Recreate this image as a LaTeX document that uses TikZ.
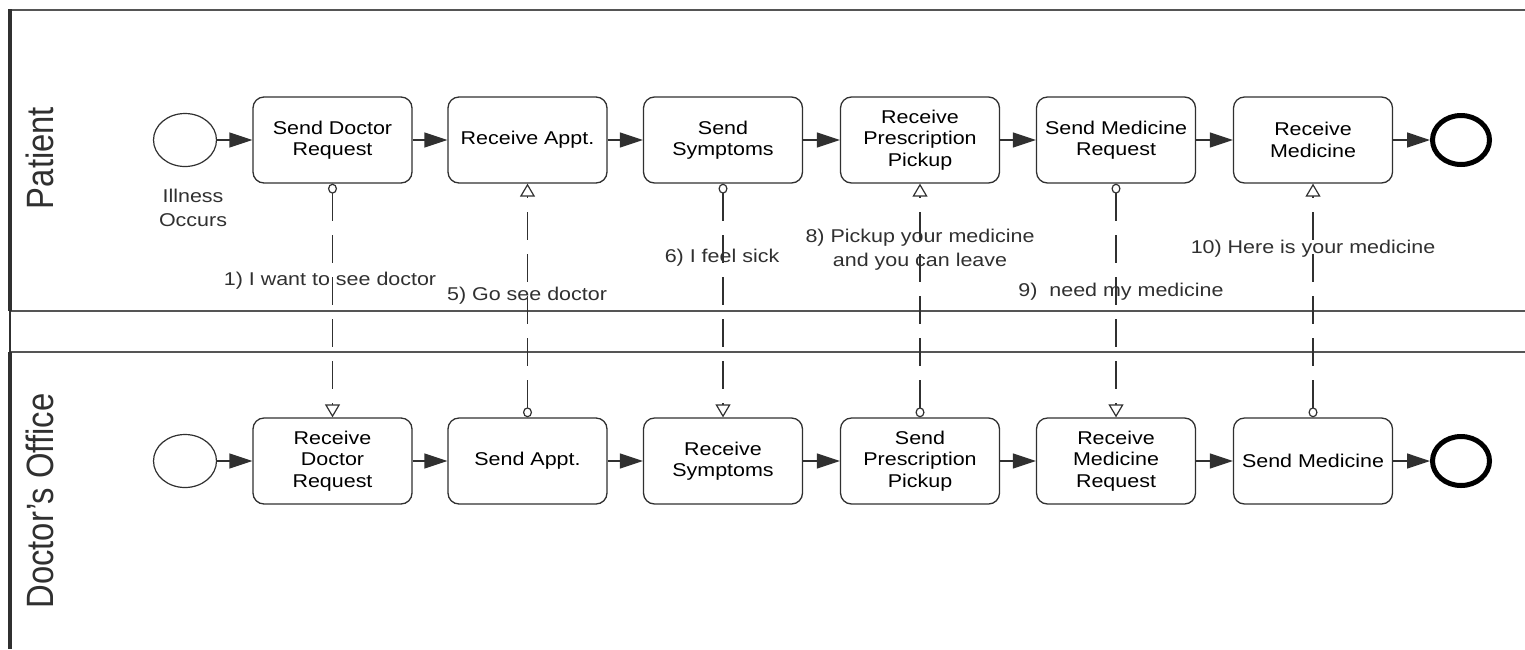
\documentclass[tikz,border=0pt]{standalone}
\usepackage{fontspec}
\setmainfont{Liberation Sans}[FakeStretch=1.16]
\newfontfamily\lanefont{Liberation Sans}
\usetikzlibrary{arrows.meta,shapes.geometric}
\definecolor{ln}{HTML}{303030}
\definecolor{pl}{HTML}{555555}
\newcommand\tskfont{\fontsize{18.5}{21.5}\selectfont}
\newcommand\lblfont{\fontsize{18.5}{24}\selectfont}
\begin{document}
\begin{tikzpicture}[x=1pt,y=-1pt,
  task/.style={draw=ln, line width=1.3pt, rounded corners=11pt, minimum width=159pt, minimum height=86pt, align=center, inner sep=0pt, font=\tskfont, fill=white},
  startev/.style={draw=ln, ellipse, line width=1.2pt, minimum width=63pt, minimum height=53pt, inner sep=0pt},
  endev/.style={draw=black, ellipse, line width=5pt, minimum width=57pt, minimum height=49pt, inner sep=0pt},
  seq/.style={draw=ln, line width=1.3pt, -{Triangle[length=23pt,width=15pt]}},
  msg/.style={draw=ln, line width=1.4pt, dash pattern=on 28pt off 14pt,
    arrows={Circle[length=10pt,width=9pt,fill=white,line width=1.2pt]-Triangle[length=13pt,width=15pt,fill=white,line width=1.2pt]}},
  lbl/.style={align=center, inner sep=0pt, font=\lblfont, text=ln},
  lane/.style={rotate=90, inner sep=0pt, font=\lanefont\fontsize{32.8}{36}\selectfont, text=ln}
]
\useasboundingbox (0,0) rectangle (1525,649);
\fill[white] (0,0) rectangle (1525,649);
% pools
\draw[pl, line width=2pt] (1525,10) -- (10,10);
\draw[pl, line width=2pt] (10,311) -- (1525,311);
\draw[pl, line width=2pt] (10,352) -- (1525,352);
\draw[ln, line width=3.5pt] (10,9) -- (10,311);
\draw[ln, line width=1.5pt] (10,311) -- (10,352);
\draw[ln, line width=3.5pt] (10,352) -- (10,649);
\node[lane] (lp) at (40,158) {\scalebox{1}[1.16]{Patient}};
\node[lane] (ld) at (40,501) {\scalebox{1}[1.16]{Doctor’s Office}};
% patient row
\node[startev] (ps) at (185,140) {};
\node[lbl] (psl) at (193,208) {Illness\\Occurs};
\node[task] (p1) at (332.5,140) {Send Doctor\\Request};
\node[task] (p2) at (527.5,140) {Receive Appt.};
\node[task] (p3) at (723,140) {Send\\Symptoms};
\node[task] (p4) at (920,140) {Receive\\Prescription\\Pickup};
\node[task] (p5) at (1116,140) {Send Medicine\\Request};
\node[task] (p6) at (1313,140) {Receive\\Medicine};
\node[endev] (pe) at (1461,140) {};
% doctor row
\node[startev] (ds) at (185,461) {};
\node[task] (d1) at (332.5,461) {Receive\\Doctor\\Request};
\node[task] (d2) at (527.5,461) {Send Appt.};
\node[task] (d3) at (723,461) {Receive\\Symptoms};
\node[task] (d4) at (920,461) {Send\\Prescription\\Pickup};
\node[task] (d5) at (1116,461) {Receive\\Medicine\\Request};
\node[task] (d6) at (1313,461) {Send Medicine};
\node[endev] (de) at (1461,461) {};
% sequence flows
\draw[seq] (ps) -- (p1);
\draw[seq] (p1) -- (p2);
\draw[seq] (p2) -- (p3);
\draw[seq] (p3) -- (p4);
\draw[seq] (p4) -- (p5);
\draw[seq] (p5) -- (p6);
\draw[seq] (p6) -- (pe);
\draw[seq] (ds) -- (d1);
\draw[seq] (d1) -- (d2);
\draw[seq] (d2) -- (d3);
\draw[seq] (d3) -- (d4);
\draw[seq] (d4) -- (d5);
\draw[seq] (d5) -- (d6);
\draw[seq] (d6) -- (de);
% message flows
\draw[msg] (p1.south) -- (d1.north);
\draw[msg] (d2.north) -- (p2.south);
\draw[msg] (p3.south) -- (d3.north);
\draw[msg] (d4.north) -- (p4.south);
\draw[msg] (p5.south) -- (d5.north);
\draw[msg] (d6.north) -- (p6.south);
% labels
\node[lbl] (m1) at (330,281) {1) I want to see doctor};
\node[lbl] (m5) at (527,296) {5) Go see doctor};
\node[lbl] (m6) at (722,258) {6) I feel sick};
\node[lbl] (m8) at (920,250) {8) Pickup your medicine\\and you can leave};
\node[lbl] (m9) at (1121,292) {9)\ \ need my medicine};
\node[lbl] (m10) at (1313,249) {10) Here is your medicine};
\end{tikzpicture}
\end{document}
